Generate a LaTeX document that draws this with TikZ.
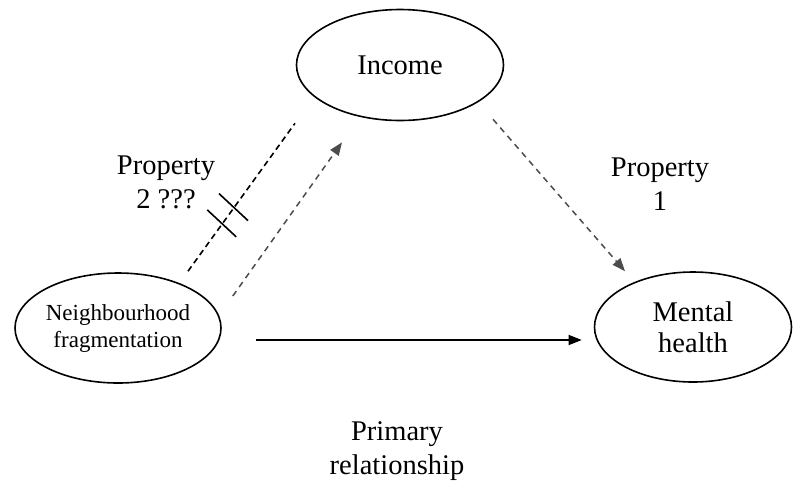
\documentclass[tikz,border=0pt]{standalone}
\usepackage{fontspec}
\setmainfont{Liberation Serif}
\usetikzlibrary{shapes.geometric,arrows.meta,calc}
\begin{document}
\begin{tikzpicture}[x=1pt,y=-1pt,
  var/.style={draw=black,line width=1.6pt,ellipse,inner sep=0pt,
    font=\fontsize{28.5}{31.5}\selectfont,align=center},
  lbl/.style={font=\fontsize{28.5}{34}\selectfont,align=center,inner sep=0pt},
  tip/.style={-{Triangle[length=13pt,width=10pt]}},
  direct/.style={tip,line width=1.3pt},
  mediated/.style={tip,line width=1.5pt,draw=black!70,dash pattern=on 6pt off 5pt},
  blocked/.style={line width=1.6pt,dash pattern=on 6pt off 4pt},
  breakmark/.style={line width=1.6pt}]
\useasboundingbox (0,0) rectangle (794,483);

% variables
\node[var,minimum width=207pt,minimum height=111pt] (inc) at (400,65) {Income};
\node[var,minimum width=206pt,minimum height=110pt,
      font=\fontsize{23}{27}\selectfont] (nf) at (118,328) {Neighbourhood\\fragmentation};
\node[var,minimum width=197pt,minimum height=110pt] (mh) at (693,327) {Mental\\health};

% connector end points
\coordinate (d1) at ($(nf.east)+(34,12)$);
\coordinate (d2) at ($(mh.west)+(-12,13)$);
\coordinate (m1) at ($(nf.east)+(11,-32)$);
\coordinate (m2) at ($(inc.south)+(-58,21)$);
\coordinate (m3) at ($(inc.south)+(93,-2)$);
\coordinate (m4) at ($(mh.north)+(-68,0)$);
\coordinate (b1) at ($(nf.north)+(70,-1)$);
\coordinate (b2) at ($(inc.south)+(-105,2)$);

% primary relationship
\draw[direct] (d1) -- (d2);
% mediating paths
\draw[mediated] (m1) -- (m2);
\draw[mediated] (m3) -- (m4);
% interrupted path with break marks
\draw[blocked] (b1) -- (b2);
\coordinate (k1) at ($(b1)!0.32!(b2)$);
\coordinate (k2) at ($(b1)!0.43!(b2)$);
\draw[breakmark] ($(k1)+(-15,-14)$) -- ($(k1)+(14,13)$);
\draw[breakmark] ($(k2)+(-15,-14)$) -- ($(k2)+(14,13)$);

% labels
\node[lbl] (p2) at (166,182) {Property\\2 ???};
\node[lbl] (p1) at (660,184) {Property\\1};
\node[lbl] (pr) at (397,451) {Primary\\relationship};
\end{tikzpicture}
\end{document}
